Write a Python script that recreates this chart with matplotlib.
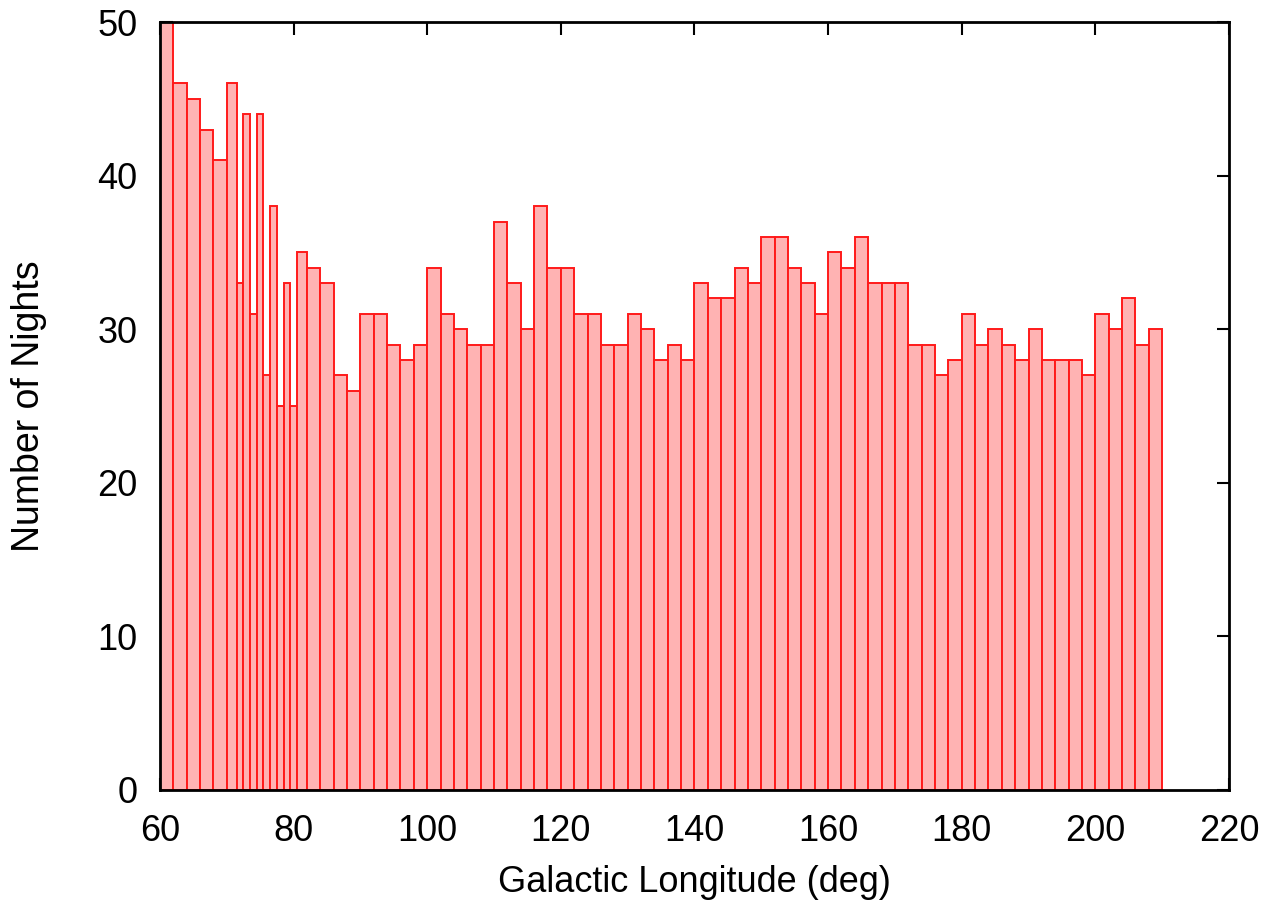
import numpy as np
import matplotlib.pyplot as plt

# bin centres (deg) and counts
longitude = [61, 63, 65, 67, 69, 71, 72, 73, 74, 75, 76, 77, 78, 79, 80, 81,
             83, 85, 87, 89, 91, 93, 95, 97, 99, 101, 103, 105, 107, 109,
             111, 113, 115, 117, 119, 121, 123, 125, 127, 129, 131, 133, 135,
             137, 139, 141, 143, 145, 147, 149, 151, 153, 155, 157, 159, 161,
             163, 165, 167, 169, 171, 173, 175, 177, 179, 181, 183, 185, 187,
             189, 191, 193, 195, 197, 199, 201, 203, 205, 207, 209]
nights = [50, 46, 45, 43, 41, 46, 33, 44, 31, 44, 27, 38, 25, 33, 25, 35,
          34, 33, 27, 26, 31, 31, 29, 28, 29, 34, 31, 30, 29, 29,
          37, 33, 30, 38, 34, 34, 31, 31, 29, 29, 31, 30, 28,
          29, 28, 33, 32, 32, 34, 33, 36, 36, 34, 33, 31, 35,
          34, 36, 33, 33, 33, 29, 29, 27, 28, 31, 29, 30, 29,
          28, 30, 28, 28, 28, 27, 31, 30, 32, 29, 30]

# boxes reach halfway to the neighbouring points (gnuplot style)
c = np.array(longitude, dtype=float)
mids = (c[1:] + c[:-1]) / 2
edges = np.concatenate([[c[0] - (c[1] - c[0]) / 2], mids, [c[-1] + (c[-1] - c[-2]) / 2]])

plt.rcParams['font.family'] = ['Liberation Sans', 'DejaVu Sans']

fig = plt.figure(figsize=(12.69, 9.02), dpi=100)
ax = fig.add_axes([0.126, 0.1242, 0.8425, 0.8514])

ax.bar(edges[:-1], nights, width=np.diff(edges), align='edge',
       color='#ffb3b3', edgecolor='#ff1a1a', linewidth=1.4, zorder=2)

ax.set_xlim(60, 220)
ax.set_ylim(0, 50)
ax.set_xticks(range(60, 221, 20))
ax.set_yticks(range(0, 51, 10))
ax.tick_params(direction='in', length=9, width=1.5, top=True, right=True,
               labelsize=26)
ax.tick_params(axis='x', pad=17)
ax.tick_params(axis='y', pad=16)
for s in ax.spines.values():
    s.set_linewidth(2)
    s.set_zorder(5)

ax.set_xlabel('Galactic Longitude (deg)', fontsize=26, labelpad=12)
ax.set_ylabel('Number of Nights', fontsize=27, labelpad=36)

fig.savefig('out.png', dpi=100)
